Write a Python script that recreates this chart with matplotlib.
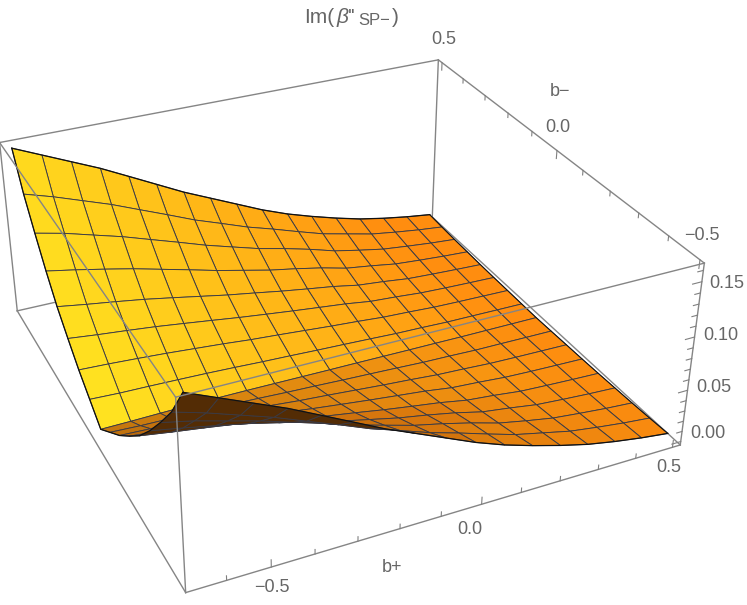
import numpy as np
import matplotlib
matplotlib.use('Agg')
import matplotlib.pyplot as plt

plt.rcParams['font.family'] = ['Liberation Sans', 'DejaVu Sans']

# значения
b_plus = [-0.667, -0.594, -0.521, -0.448, -0.375, -0.302, -0.229, -0.156, -0.083,
          -0.010, 0.063, 0.135, 0.208, 0.281, 0.354, 0.427, 0.500]
b_minus = [-0.494, -0.432, -0.370, -0.308, -0.246, -0.184, -0.122, -0.060, 0.002,
           0.064, 0.126, 0.188, 0.250, 0.312, 0.374, 0.436, 0.498]
# строки по b-, столбцы по b+
im_beta = [
    [.1630, .1511, .1392, .1273, .1138, .1002, .0866, .0747, .0628, .0509, .0407, .0323, .0246, .0178, .0127, .0085, .0051],
    [.1307, .1224, .1129, .1034, .0924, .0815, .0703, .0608, .0511, .0430, .0343, .0261, .0200, .0139, .0100, .0066, .0039],
    [.1053, .0992, .0915, .0839, .0750, .0662, .0571, .0492, .0414, .0353, .0284, .0207, .0153, .0104, .0075, .0049, .0029],
    [.0815, .0764, .0708, .0649, .0581, .0513, .0443, .0382, .0321, .0273, .0219, .0154, .0117, .0075, .0054, .0036, .0022],
    [.0603, .0560, .0521, .0479, .0430, .0379, .0328, .0284, .0238, .0197, .0158, .0109, .0083, .0051, .0037, .0025, .0015],
    [.0433, .0402, .0375, .0346, .0311, .0275, .0238, .0205, .0173, .0143, .0114, .0076, .0058, .0036, .0025, .0017, .0010],
    [.0272, .0260, .0244, .0226, .0204, .0182, .0156, .0136, .0114, .0092, .0073, .0051, .0039, .0024, .0017, .0012, .0007],
    [.0136, .0124, .0119, .0112, .0104, .0093, .0080, .0070, .0058, .0048, .0037, .0025, .0019, .0010, .0008, .0005, .0003],
    [.0000, .0003, .0008, .0012, .0014, .0014, .0012, .0010, .0008, .0007, .0005, .0003, .0002, .0000, .0000, .0000, .0000],
    [.0136, .0124, .0119, .0112, .0104, .0093, .0080, .0070, .0058, .0048, .0037, .0025, .0019, .0010, .0008, .0005, .0003],
    [.0272, .0260, .0244, .0226, .0204, .0182, .0156, .0136, .0114, .0092, .0073, .0051, .0039, .0024, .0017, .0012, .0007],
    [.0433, .0402, .0375, .0346, .0311, .0275, .0238, .0205, .0173, .0143, .0114, .0076, .0058, .0036, .0025, .0017, .0010],
    [.0603, .0560, .0521, .0479, .0430, .0379, .0328, .0284, .0238, .0197, .0158, .0109, .0083, .0051, .0037, .0025, .0015],
    [.0815, .0764, .0708, .0649, .0581, .0513, .0443, .0382, .0321, .0273, .0219, .0154, .0117, .0075, .0054, .0036, .0022],
    [.1053, .0992, .0915, .0839, .0750, .0662, .0571, .0492, .0414, .0353, .0284, .0207, .0153, .0104, .0075, .0049, .0029],
    [.1307, .1224, .1129, .1034, .0924, .0815, .0703, .0608, .0511, .0430, .0343, .0261, .0200, .0139, .0100, .0066, .0039],
    [.1630, .1511, .1392, .1273, .1138, .1002, .0866, .0747, .0628, .0509, .0407, .0323, .0246, .0178, .0127, .0085, .0051],
]
x_ticks = [-0.6, -0.5, -0.4, -0.3, -0.2, -0.1, 0.0, 0.1, 0.2, 0.3, 0.4, 0.5]
y_ticks = [-0.5, -0.4, -0.3, -0.2, -0.1, 0.0, 0.1, 0.2, 0.3, 0.4, 0.5]
z_ticks = [0.00, 0.01, 0.02, 0.03, 0.04, 0.05, 0.06, 0.07, 0.08, 0.09, 0.10,
           0.11, 0.12, 0.13, 0.14, 0.15, 0.16]
x_major = [-0.5, 0.0, 0.5]
y_major = [-0.5, 0.0, 0.5]
z_major = [0.00, 0.05, 0.10, 0.15]

x0, x1 = -0.6899, 0.5215
y0, y1 = -0.5135, 0.5178
z0, z1 = -0.0034, 0.1664
elev, azim, roll, focal = 30.8263, -115.2386, -0.2252, 0.4373
aspect = (1.0034, 1, 0.3985)

W, H = 747, 605
fig = plt.figure(figsize=(W/100, H/100), dpi=100)
ax = fig.add_axes([-45.03/W, -58.77/H, 729.52/W, 729.52/H], projection='3d', computed_zorder=False)
ax.set_xlim(x0, x1)
ax.set_ylim(y0, y1)
ax.set_zlim(z0, z1)
ax.view_init(elev=elev, azim=azim, roll=roll)
ax.set_proj_type('persp', focal_length=focal)
ax.set_box_aspect(aspect)
ax.set_axis_off()

X, Y = np.meshgrid(b_plus, b_minus)
Z = np.array(im_beta)

# цвет ячеек: жёлтый -> оранжевый, тёмная изнанка
box = np.array(aspect)*1.8294640721620434*25/24/np.linalg.norm(aspect)
bx = (X-x0)/(x1-x0)*box[0]
by = (Y-y0)/(y1-y0)*box[1]
bz = (Z-z0)/(z1-z0)*box[2]
e, a = np.radians(elev), np.radians(azim)
eye = box/2 + 10*focal*np.array([np.cos(e)*np.cos(a), np.cos(e)*np.sin(a), np.sin(e)])
yellow = np.array([255, 226, 32])/255
orange = np.array([255, 141, 15])/255
brown = np.array([83, 44, 5])/255
n_row, n_col = Z.shape
colors = np.zeros((n_row-1, n_col-1, 4))
for j in range(n_row-1):
    for i in range(n_col-1):
        p = np.array([bx[j, i], by[j, i], bz[j, i]])
        u = np.array([bx[j, i+1]-bx[j, i], 0, (bz[j, i+1]+bz[j+1, i+1]-bz[j, i]-bz[j+1, i])/2])
        v = np.array([0, by[j+1, i]-by[j, i], (bz[j+1, i]+bz[j+1, i+1]-bz[j, i]-bz[j, i+1])/2])
        nrm = np.cross(u, v)
        c = p + (u+v)/2
        slope = -v[2]/v[1]
        d = np.clip(slope/0.7, 0, 1)
        t = np.clip(i/15 + 0.12*(j-8)/8 + 1.2*d, 0, 1)
        col = (yellow*(1-t) + orange*t)*(1-0.32*d)
        if nrm @ (eye-c) < 0:
            col = brown
        colors[j, i] = [*col, 1]

mesh = '#3a3a44'
line = '#858585'
tick = '#808080'
ax.plot_surface(X, Y, Z, facecolors=colors, rstride=1, cstride=1, shade=False,
                edgecolor=mesh, linewidth=0.65, antialiased=True, zorder=2)

# граница поверхности
ax.plot(X[-1], Y[-1], Z[-1], color='#111111', lw=0.9, zorder=2.5)
ax.plot(X[0], Y[0], Z[0], color='#111111', lw=0.9, zorder=2.5)
ax.plot(X[:, 0], Y[:, 0], Z[:, 0], color='#111111', lw=0.9, zorder=2.5)
ax.plot(X[:, -1], Y[:, -1], Z[:, -1], color='#111111', lw=0.7, zorder=2.5)

# рамка
def edge(a, b, zo):
    ax.plot([a[0], b[0]], [a[1], b[1]], [a[2], b[2]], color=line, lw=1, zorder=zo, clip_on=False)

A, B, C, D = (x0, y1, z1), (x1, y1, z1), (x1, y0, z1), (x0, y0, z1)
E, F, G, K = (x0, y1, z0), (x1, y1, z0), (x1, y0, z0), (x0, y0, z0)
for a_, b_ in [(A, B), (B, C), (A, E), (B, F), (C, G), (E, F), (F, G), (E, K), (K, G)]:
    edge(a_, b_, 1)
for a_, b_ in [(A, D), (D, C), (D, K)]:
    edge(a_, b_, 3)

# засечки
dz = z1-z0
dx = x1-x0
for v in x_ticks:
    ln = 0.04 if v in x_major else 0.025
    ax.plot([v, v], [y0, y0], [z0, z0+ln*dz], color=tick, lw=0.8, zorder=1, clip_on=False)
for v in y_ticks:
    ln = 0.045 if v in y_major else 0.025
    ax.plot([x1, x1], [v, v], [z1, z1-ln*dz], color=tick, lw=0.8, zorder=1, clip_on=False)
for v in z_ticks:
    ln = 0.02 if v in z_major else 0.012
    ax.plot([x1, x1-ln*dx], [y0, y0], [v, v], color=tick, lw=0.8, zorder=1, clip_on=False)

# подписи
txt = '#666666'
labels = [('0.5', 444, 40), ('0.0', 558, 127), ('\u22120.5', 702, 235), ('b\u2212', 560, 91),
          ('0.15', 727, 284), ('0.10', 721, 336), ('0.05', 714, 387), ('0.00', 708, 434),
          ('\u22120.5', 272, 587), ('0.0', 470, 529), ('0.5', 669, 468), ('b+', 392, 568)]
for s, px, py in labels:
    fig.text(px/W, 1-py/H, s, color=txt, fontsize=13, ha='center', va='center')
# заголовок по частям
fig.text(304/W, 1-23/H, 'Im(', color=txt, fontsize=15, va='baseline')
fig.text(337/W, 1-23/H, '\u03b2', color=txt, fontsize=15, style='italic', va='baseline')
fig.text(348/W, 1-23/H, "''", color=txt, fontsize=15, va='baseline')
fig.text(358/W, 1-25/H, 'SP\u2212', color=txt, fontsize=12, va='baseline')
fig.text(392/W, 1-23/H, ')', color=txt, fontsize=15, va='baseline')

fig.savefig('out.png', dpi=100)
